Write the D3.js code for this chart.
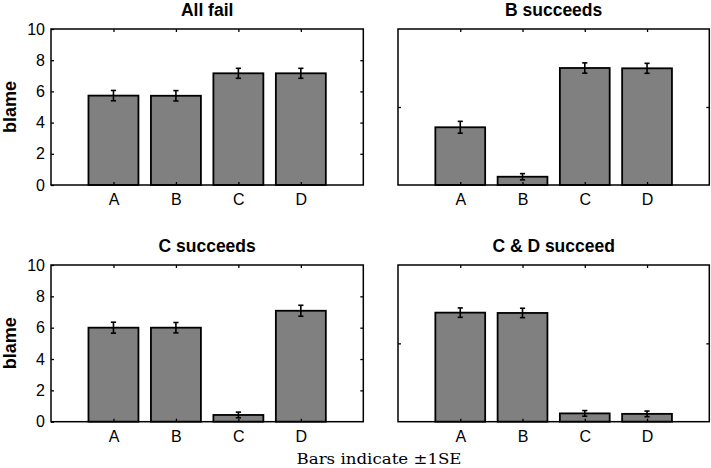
<!DOCTYPE html>
<html><head><meta charset="utf-8">
<script src="https://cdn.jsdelivr.net/npm/d3@7"></script>
<style>
html,body{margin:0;padding:0;background:#fff;}
svg{display:block;}
</style>
</head><body>
<svg id="chart" width="711" height="468"></svg>
<script>
const categories = ["A","B","C","D"];
const panelTitles = ["All fail","B succeeds","C succeeds","C & D succeed"];
const meansAllFail   = [5.73, 5.72, 7.16, 7.16];
const seAllFail      = [0.33, 0.33, 0.32, 0.32];
const meansBSucceeds = [3.70, 0.53, 7.50, 7.48];
const seBSucceeds    = [0.38, 0.20, 0.33, 0.32];
const meansCSucceeds = [6.00, 6.00, 0.43, 7.08];
const seCSucceeds    = [0.35, 0.33, 0.18, 0.35];
const meansCDSucceed = [6.96, 6.94, 0.53, 0.50];
const seCDSucceed    = [0.30, 0.30, 0.18, 0.18];
const yTicks = [0,2,4,6,8,10];
const yLabel = "blame";
const footnote = "Bars indicate \u00b11SE";

const panels = [
  {title: panelTitles[0], means: meansAllFail,   se: seAllFail,   col: 0, row: 0},
  {title: panelTitles[1], means: meansBSucceeds, se: seBSucceeds, col: 1, row: 0},
  {title: panelTitles[2], means: meansCSucceeds, se: seCSucceeds, col: 0, row: 1},
  {title: panelTitles[3], means: meansCDSucceed, se: seCDSucceed, col: 1, row: 1}
];

const colX = [[51, 363.3], [398, 709.3]];
const rowY = [[29, 185], [265, 421.7]];

const svg = d3.select("#chart");
const sans = "'Liberation Sans', Arial, Helvetica, sans-serif";

panels.forEach(p => {
  const [x0, x1] = colX[p.col];
  const [y0, y1] = rowY[p.row];
  const x = d3.scaleLinear().domain([0, categories.length + 1]).range([x0, x1]);
  const y = d3.scaleLinear().domain([0, 10]).range([y1, y0]);
  const g = svg.append("g");
  const pos = categories.map((c, i) => i + 1);
  const bw = x(0.8) - x(0);

  // bars
  g.selectAll("rect.bar").data(p.means).join("rect")
    .attr("x", (d, i) => x(pos[i]) - bw / 2)
    .attr("y", d => y(d))
    .attr("width", bw)
    .attr("height", d => y(0) - y(d))
    .attr("fill", "#808080")
    .attr("stroke", "#000")
    .attr("stroke-width", 1.8);

  // error bars
  const eg = g.selectAll("g.err").data(p.means).join("g").attr("class", "err");
  eg.append("line")
    .attr("x1", (d, i) => x(pos[i])).attr("x2", (d, i) => x(pos[i]))
    .attr("y1", (d, i) => y(d - p.se[i])).attr("y2", (d, i) => y(d + p.se[i]))
    .attr("stroke", "#000").attr("stroke-width", 1.6);
  [-1, 1].forEach(s => {
    eg.append("line")
      .attr("x1", (d, i) => x(pos[i]) - 2.6).attr("x2", (d, i) => x(pos[i]) + 2.6)
      .attr("y1", (d, i) => y(d + s * p.se[i])).attr("y2", (d, i) => y(d + s * p.se[i]))
      .attr("stroke", "#000").attr("stroke-width", 1.6);
  });

  // axes
  const styleAxis = sel => {
    sel.select(".domain").remove();
    sel.selectAll(".tick line").attr("stroke", "#000").attr("stroke-width", 1.3);
    sel.selectAll("text").attr("font-family", sans).attr("font-size", 16).attr("fill", "#000");
  };
  const bottom = g.append("g").attr("transform", `translate(0,${y1})`)
    .call(d3.axisBottom(x).tickValues(pos).tickFormat((d, i) => categories[i]).tickSize(-3).tickPadding(8.5));
  styleAxis(bottom);
  const top = g.append("g").attr("transform", `translate(0,${y0})`)
    .call(d3.axisTop(x).tickValues(pos).tickFormat("").tickSize(-3));
  styleAxis(top);
  if (p.col === 0) {
    const left = g.append("g").attr("transform", `translate(${x0},0)`)
      .call(d3.axisLeft(y).tickValues(yTicks).tickFormat(d3.format("d")).tickSize(-3).tickPadding(6));
    styleAxis(left);
    const right = g.append("g").attr("transform", `translate(${x1},0)`)
      .call(d3.axisRight(y).tickValues(yTicks.slice(1, -1)).tickFormat("").tickSize(-3));
    styleAxis(right);
    g.append("text")
      .attr("transform", `translate(${x0 - 35},${(y0 + y1) / 2}) rotate(-90)`)
      .attr("text-anchor", "middle")
      .attr("font-family", sans).attr("font-weight", "bold").attr("font-size", 18)
      .text(yLabel);
  } else {
    const left = g.append("g").attr("transform", `translate(${x0},0)`)
      .call(d3.axisLeft(y).tickValues([5]).tickFormat("").tickSize(-3));
    styleAxis(left);
    const right = g.append("g").attr("transform", `translate(${x1},0)`)
      .call(d3.axisRight(y).tickValues([5]).tickFormat("").tickSize(-3));
    styleAxis(right);
  }

  // frame
  g.append("rect")
    .attr("x", x0).attr("y", y0).attr("width", x1 - x0).attr("height", y1 - y0)
    .attr("fill", "none").attr("stroke", "#000").attr("stroke-width", 1.5);

  // title
  g.append("text")
    .attr("x", (x0 + x1) / 2).attr("y", y0 - 13)
    .attr("text-anchor", "middle")
    .attr("font-family", sans).attr("font-weight", "bold").attr("font-size", 17.5)
    .text(p.title);
});

svg.append("text")
  .attr("x", 379).attr("y", 464)
  .attr("text-anchor", "middle")
  .attr("font-family", "'DejaVu Serif', 'Liberation Serif', serif")
  .attr("font-size", 15.5)
  .attr("textLength", 165).attr("lengthAdjust", "spacingAndGlyphs")
  .text(footnote);
</script>
</body></html>
